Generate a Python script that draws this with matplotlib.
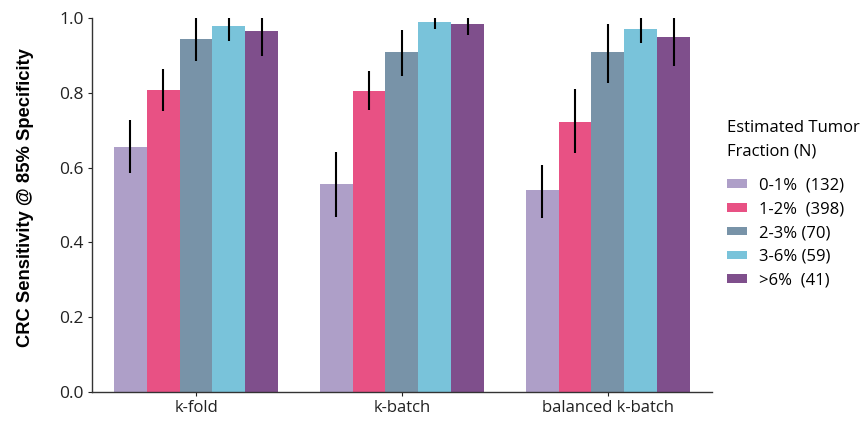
import matplotlib
matplotlib.use("Agg")
import matplotlib.pyplot as plt
import numpy as np

# --- Data ---
methods = ["k-fold", "k-batch", "balanced k-batch"]
fractions = ["0-1%  (132)", "1-2%  (398)", "2-3% (70)", "3-6% (59)", ">6%  (41)"]
colors = ["#ae9fc8", "#e85184", "#7893a8", "#79c3da", "#7f4f8c"]

# sensitivity per fraction, one entry per method
sens = [
    [0.656, 0.556, 0.539],
    [0.809, 0.805, 0.723],
    [0.944, 0.910, 0.909],
    [0.979, 0.989, 0.971],
    [0.966, 0.984, 0.949],
]
err_low = [
    [0.585, 0.467, 0.465],
    [0.752, 0.754, 0.640],
    [0.886, 0.844, 0.826],
    [0.939, 0.970, 0.933],
    [0.898, 0.955, 0.871],
]
err_high = [
    [0.727, 0.643, 0.608],
    [0.864, 0.858, 0.811],
    [1.000, 0.969, 0.984],
    [1.000, 1.000, 1.000],
    [1.000, 1.000, 1.000],
]

plt.rcParams['font.family'] = ['Open Sans', 'DejaVu Sans']

fig = plt.figure(figsize=(8.64, 4.21), dpi=100)
ax = fig.add_axes([0.1065, 0.069, 0.7175, 0.888])

x = np.arange(len(methods))
n = len(fractions)
w = 0.8 / n
for i in range(n):
    pos = x - 0.4 + w * (i + 0.5)
    vals = np.array(sens[i])
    lo = vals - np.array(err_low[i])
    hi = np.array(err_high[i]) - vals
    ax.bar(pos, vals, width=w, color=colors[i], label=fractions[i])
    ax.errorbar(pos, vals, yerr=[lo, hi], fmt='none', ecolor='black',
                elinewidth=1.5, capsize=0, zorder=3)

ax.set_xlim(-0.505, 2.505)
ax.set_ylim(0, 1.0)
ax.set_xticks(x)
ax.set_xticklabels(methods, fontsize=12)
ax.set_yticks([0.0, 0.2, 0.4, 0.6, 0.8, 1.0])
ax.set_yticklabels(["0.0", "0.2", "0.4", "0.6", "0.8", "1.0"], fontsize=12.5)
ax.spines['top'].set_visible(False)
ax.spines['right'].set_visible(False)
for s in ['left', 'bottom']:
    ax.spines[s].set_color('#333333')
    ax.spines[s].set_linewidth(1.0)
ax.tick_params(colors='#222222', length=3, pad=3)
ax.set_ylabel("CRC Sensitivity @ 85% Specificity", fontsize=13.2,
              fontweight='bold', family=['Liberation Sans', 'DejaVu Sans'])
ax.yaxis.set_label_coords(-0.093, 0.52)

leg = ax.legend(title="Estimated Tumor\nFraction (N)", loc='upper left',
                bbox_to_anchor=(1.024, 0.727), bbox_transform=ax.transAxes,
                frameon=False, fontsize=12, title_fontsize=12,
                handlelength=1.2, handleheight=0.42, labelspacing=0.47,
                handletextpad=0.72, borderpad=0, borderaxespad=0)
leg._legend_box.align = "left"
leg._legend_box.sep = 13
leg.get_title().set_linespacing(1.6)

fig.savefig("out.png", dpi=100)
